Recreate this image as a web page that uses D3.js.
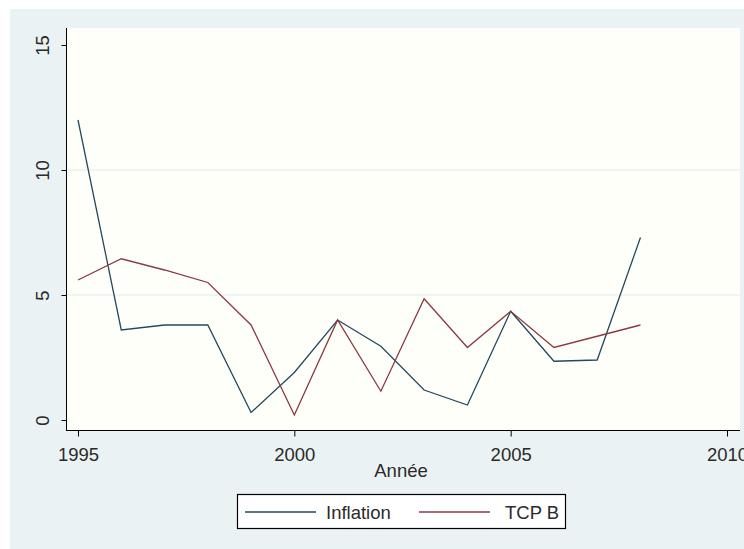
<!DOCTYPE html>
<html>
<head>
<meta charset="utf-8">
<script src="https://cdn.jsdelivr.net/npm/d3@7"></script>
<style>
  body { margin: 0; background: #fff; }
  svg { display: block; font-family: "Liberation Sans", Arial, sans-serif; }
</style>
</head>
<body>
<div id="chart"></div>
<script>
const years = [1995, 1996, 1997, 1998, 1999, 2000, 2001, 2002, 2003, 2004, 2005, 2006, 2007, 2008];
const inflation = [12.0, 3.6, 3.8, 3.8, 0.3, 1.9, 4.0, 2.95, 1.2, 0.6, 4.35, 2.35, 2.4, 7.3];
const tcpB = [5.6, 6.45, 6.0, 5.5, 3.8, 0.2, 4.0, 1.15, 4.85, 2.9, 4.35, 2.9, 3.35, 3.8];
const xTicks = [1995, 2000, 2005, 2010];
const yTicks = [0, 5, 10, 15];
const seriesNames = ["Inflation", "TCP B"];
const seriesColors = ["#24485e", "#8a3a42"];

const width = 744, height = 549;
const fontSize = 18.5;
const textColor = '#2a2a2a';

const svg = d3.select('#chart').append('svg')
    .attr('width', width)
    .attr('height', height);

// outer graph region
svg.append('rect')
    .attr('x', 10).attr('y', 9)
    .attr('width', width - 10).attr('height', height - 9)
    .attr('fill', '#eaf2f3');

const plot = { left: 67, right: 740, top: 28, bottom: 430 };

svg.append('rect')
    .attr('x', plot.left).attr('y', plot.top)
    .attr('width', plot.right - plot.left).attr('height', plot.bottom - plot.top)
    .attr('fill', '#fffffa');

const x = d3.scaleLinear().domain([1995, 2010]).range([78, 727]);
const y = d3.scaleLinear().domain([0, 15]).range([420, 45]);

// grid lines
svg.append('g').selectAll('line')
    .data(yTicks.filter(d => d > 0 && d < 15))
    .join('line')
    .attr('x1', plot.left).attr('x2', plot.right)
    .attr('y1', d => y(d)).attr('y2', d => y(d))
    .attr('stroke', '#eaf2f3').attr('stroke-width', 1.5);

// y axis
const yAxis = svg.append('g')
    .attr('transform', `translate(${plot.left - 0.5},0)`)
    .call(d3.axisLeft(y).tickValues(yTicks).tickSize(5).tickSizeOuter(0).tickFormat(d3.format('d')));
yAxis.select('.domain').attr('d', `M0,${plot.top}V${plot.bottom}`).attr('stroke', '#000');
yAxis.selectAll('.tick line').attr('stroke', '#000');
yAxis.selectAll('.tick text')
    .attr('x', 0).attr('dy', 0)
    .attr('transform', 'translate(-18,0) rotate(-90)')
    .attr('text-anchor', 'middle')
    .attr('font-size', fontSize).attr('fill', textColor);

// x axis
const xAxis = svg.append('g')
    .attr('transform', `translate(0,${plot.bottom + 0.5})`)
    .call(d3.axisBottom(x).tickValues(xTicks).tickSize(6).tickSizeOuter(0).tickFormat(d3.format('d')));
xAxis.select('.domain').attr('d', `M${plot.left - 1},0H${plot.right}`).attr('stroke', '#000');
xAxis.selectAll('.tick line').attr('stroke', '#000');
xAxis.selectAll('.tick text')
    .attr('y', 30).attr('dy', 0)
    .attr('font-size', fontSize).attr('fill', textColor);

svg.append('text')
    .attr('x', 401).attr('y', 477)
    .attr('text-anchor', 'middle')
    .attr('font-size', fontSize).attr('fill', textColor)
    .text('Année');

// series lines
const line = d3.line().x((d, i) => x(years[i])).y(d => y(d));
[inflation, tcpB].forEach((vals, k) => {
    svg.append('path')
        .datum(vals)
        .attr('d', line)
        .attr('fill', 'none')
        .attr('stroke', seriesColors[k])
        .attr('stroke-width', 1.3);
});

// legend
const legend = svg.append('g');
legend.append('rect')
    .attr('x', 237.5).attr('y', 494.5)
    .attr('width', 328).attr('height', 34)
    .attr('fill', '#fff').attr('stroke', '#000').attr('stroke-width', 1.2);
const legendX = [245, 419];
const legendTextX = [326, 505];
seriesNames.forEach((name, k) => {
    legend.append('line')
        .attr('x1', legendX[k]).attr('x2', legendX[k] + 71)
        .attr('y1', 512).attr('y2', 512)
        .attr('stroke', seriesColors[k]).attr('stroke-width', 1.3);
    legend.append('text')
        .attr('x', legendTextX[k]).attr('y', 519)
        .attr('font-size', fontSize).attr('fill', textColor)
        .text(name);
});
</script>
</body>
</html>
